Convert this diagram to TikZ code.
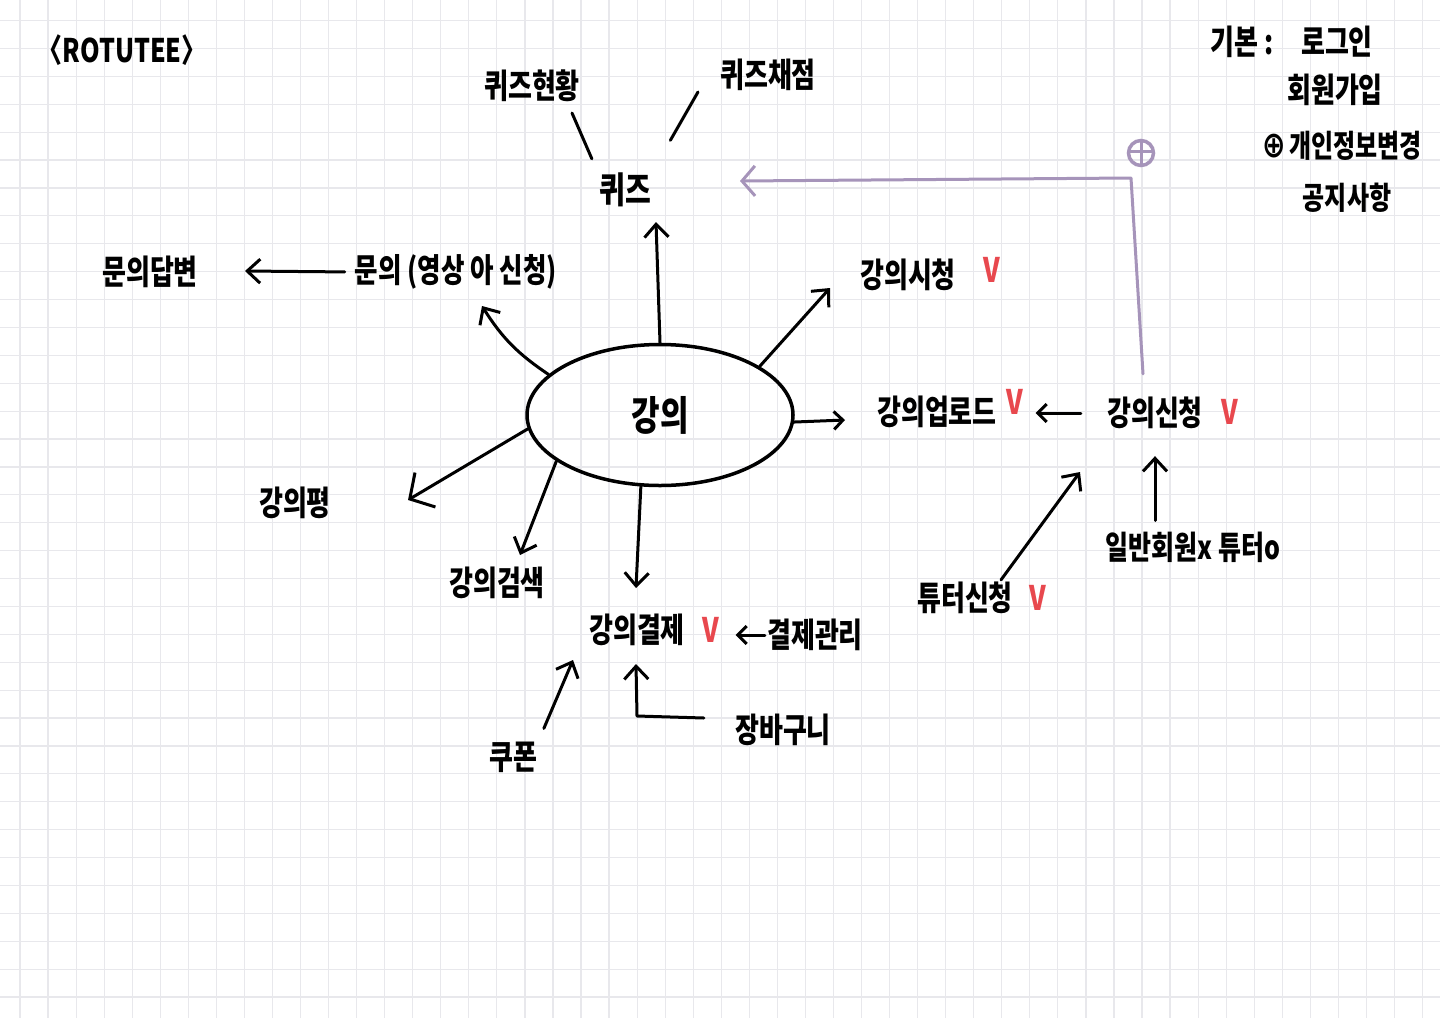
\documentclass[tikz,border=0pt]{standalone}
\usepackage{fontspec}
\newfontfamily\kr{Noto Sans CJK KR}
\newfontfamily\dejavu{DejaVu Sans}
\usetikzlibrary{arrows.meta,shapes.geometric,calc}
\definecolor{gridc}{RGB}{232,232,236}
\definecolor{redv}{RGB}{232,72,78}
\definecolor{purp}{RGB}{166,148,186}
\newcommand{\hw}[1]{\scalebox{1}[1.3]{#1}}
\begin{document}
\begin{tikzpicture}[x=1pt,y=-1pt,
  lbl/.style={font=\kr\bfseries\fontsize{26}{30}\selectfont, inner sep=2pt},
  small/.style={font=\kr\bfseries\fontsize{24}{28}\selectfont},
  big/.style={font=\kr\bfseries\fontsize{28}{32}\selectfont},
  vmark/.style={font=\kr\bfseries\fontsize{26}{30}\selectfont, text=redv, inner sep=2pt},
  ln/.style={line width=3pt, line cap=round, line join=round},
  arr/.style={ln, -{Straight Barb[length=13pt,width=24pt]}},
  arrs/.style={ln, -{Straight Barb[length=9pt,width=18pt]}},
  arrb/.style={ln, -{Straight Barb[length=18pt,width=40pt]}},
  parr/.style={line width=3pt, draw=purp, line cap=round, line join=round, -{Straight Barb[length=13pt,width=30pt]}},
  plusc/.style={circle, draw=purp, line width=3.5pt, minimum size=25pt, inner sep=0pt,
    path picture={\draw[purp, line width=3pt]
      (path picture bounding box.north) -- (path picture bounding box.south)
      ([yshift=2pt]path picture bounding box.west) -- ([yshift=2pt]path picture bounding box.east);}}
]
\useasboundingbox (0,0) rectangle (1440,1018);
\fill[white] (0,0) rectangle (1440,1018);
% grid
\foreach \i in {0,...,51} {\draw[gridc, line width=1.2pt] ({20+28.05*\i},0) -- ({20+28.05*\i},1018);}
\foreach \j in {0,...,36} {\draw[gridc, line width=1.2pt] (0,{20.5+27.9*\j}) -- (1440,{20.5+27.9*\j});}

% nodes
\node[lbl, font=\kr\bfseries\fontsize{25}{29}\selectfont] (title) at (122,50) {\hw{〈ROTUTEE〉}};
\node[lbl] (basic) at (1242,42) {\hw{기본 :}};
\node[lbl] (login) at (1337,42) {\hw{로그인}};
\node[lbl] (signup) at (1335,90) {\hw{회원가입}};
\node[lbl, small] (privacy) at (1342,146) {\hw{{\dejavu\fontsize{28}{30}\selectfont ⊕}\,개인정보변경}};
\node[lbl, small] (notice) at (1347,198) {\hw{공지사항}};
\node[plusc] (plus) at (1141,153) {};

\node[lbl, big] (quiz) at (625,190) {\hw{퀴즈}};
\node[lbl] (qs) at (532,86) {\hw{퀴즈현황}};
\node[lbl] (qsc) at (768,75) {\hw{퀴즈채점}};
\node[lbl] (answer) at (150,272) {\hw{문의답변}};
\node[lbl, font=\kr\bfseries\fontsize{25.5}{29}\selectfont] (inquiry) at (456,272) {\hw{문의 (영상 아 신청)}};
\node[lbl] (watch) at (908,275) {\hw{강의시청}};
\node[vmark] (watchV) at (992,270) {\hw{V}};
\node[ellipse, draw, line width=3.5pt, minimum width=266pt, minimum height=141pt, inner sep=0pt,
      font=\kr\bfseries\fontsize{31}{35}\selectfont] (lec) at (660,415) {\hw{강의}};
\node[lbl] (upload) at (937,412) {\hw{강의업로드}};
\node[vmark] (upV) at (1015,402) {\hw{V}};
\node[lbl] (apply) at (1155,413) {\hw{강의신청}};
\node[vmark] (applyV) at (1230,412) {\hw{V}};
\node[lbl] (review) at (295,503) {\hw{강의평}};
\node[lbl] (search) at (497,583) {\hw{강의검색}};
\node[lbl] (pay) at (637,630) {\hw{강의결제}};
\node[vmark] (payV) at (711,630) {\hw{V}};
\node[lbl] (paymgmt) at (815,635) {\hw{결제관리}};
\node[lbl] (coupon) at (513,757) {\hw{쿠폰}};
\node[lbl] (cart) at (783,730) {\hw{장바구니}};
\node[lbl] (tutorapp) at (965,598) {\hw{튜터신청}};
\node[vmark] (tutorV) at (1038,598) {\hw{V}};
\node[lbl, font=\kr\bfseries\fontsize{25}{29}\selectfont] (member) at (1193,547) {\hw{일반회원x 튜터o}};

% free ends
\coordinate (quiztip) at (656,222);
\coordinate (qsA) at (572,113);
\coordinate (qscA) at (698,92);
\coordinate (inqtip) at (482,306);
\coordinate (anstip) at (245,271);
\coordinate (watchtip) at (830,288);
\coordinate (uptip) at (845,420);
\coordinate (revtip) at (408,500);
\coordinate (searchtip) at (520,555);
\coordinate (paytip) at (636,588);
\coordinate (coupontip) at (573,660);
\coordinate (cartbend) at (637,716);
\coordinate (carttip) at (636,664);
\coordinate (applytip) at (1080,472);
\coordinate (purpcorner) at (1131,178);
\coordinate (purptip) at (740,181);

% connectors
\draw[arr] (lec.north) -- (quiztip);
\draw[ln, shorten >=13pt] (qsA) -- (quiz.north west);
\draw[ln, shorten >=35pt] (qscA) -- (quiz.north east);
\draw[arr] (lec.160) to[bend left=12] (inqtip);
\draw[arr, shorten <=8pt] (inquiry.west) -- (anstip);
\draw[arr] (lec.26) -- (watchtip);
\draw[arrs] (lec.-3) -- (uptip);
\draw[arrs, shorten <=24pt, shorten >=10pt] (apply.west) -- (apply.west -| upV.east);
\draw[arrb] (lec.186) -- (revtip);
\draw[arr] (lec.204) -- (searchtip);
\draw[arr] (lec.255) -- (paytip);
\draw[arrs, shorten >=14pt] (paymgmt.west) -- (paymgmt.west -| payV.east);
\draw[arr, shorten <=12pt] (coupon.north east) -- (coupontip);
\draw[arr] ([xshift=-29pt,yshift=12pt]cart.west) -- (cartbend) -- (carttip);
\draw[arr] ([xshift=36pt]tutorapp.north) -- (applytip);
\draw[arr, shorten <=9pt, shorten >=25pt] (apply.south |- member.north) -- (apply.south);
\draw[parr] ([xshift=-12pt,yshift=21pt]apply.north) -- (purpcorner) -- (purptip);
\end{tikzpicture}
\end{document}
